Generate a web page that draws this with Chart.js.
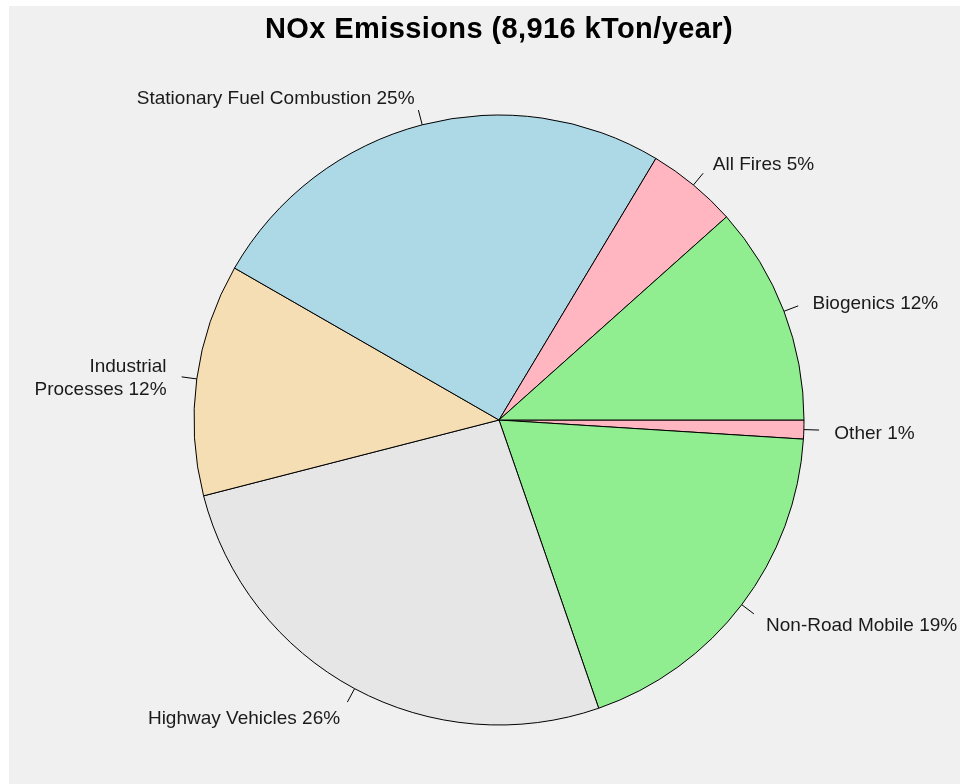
<!DOCTYPE html>
<html>
<head>
<meta charset="utf-8">
<title>NOx Emissions</title>
<script src="https://cdn.jsdelivr.net/npm/chart.js@4.4.0/dist/chart.umd.min.js"></script>
<style>
    html, body { margin: 0; padding: 0; background: #ffffff; }
    #wrap { position: relative; width: 960px; height: 784px; }
</style>
</head>
<body>
<div id="wrap"><canvas id="noxPie" width="960" height="784"></canvas></div>
<script>
// Slices in clockwise order starting at 3 o'clock
const sectors = ['Other', 'Non-Road Mobile', 'Highway Vehicles', 'Industrial\nProcesses',
    'Stationary Fuel Combustion', 'All Fires', 'Biogenics'];
// Share of total (%)
const shares = [1.0, 18.7, 26.3, 12.3, 25.3, 4.8, 11.6];
// Percent printed in each label
const shownPct = [1, 19, 26, 12, 25, 5, 12];

const sliceColors = ['#ffb6c1', '#90ee90', '#e6e6e6', '#f5deb3', '#add8e6', '#ffb6c1', '#90ee90'];

// Grey panel behind the plot, slight tracking for the title
const backdrop = {
    id: 'backdrop',
    beforeDraw(chart) {
        const ctx = chart.ctx;
        ctx.fillStyle = '#f0f0f0';
        ctx.fillRect(9, 6, chart.width - 9, chart.height - 6);
        ctx.letterSpacing = '0.4px';
    }
};

// R-style outside labels with short tick lines
const outsideLabels = {
    id: 'outsideLabels',
    afterDatasetsDraw(chart) {
        const ctx = chart.ctx;
        const meta = chart.getDatasetMeta(0);
        ctx.save();
        ctx.letterSpacing = '0px';
        ctx.font = '19px "Liberation Sans", Arial, sans-serif';
        ctx.fillStyle = '#1a1a1a';
        ctx.strokeStyle = '#000';
        ctx.lineWidth = 1;
        ctx.textBaseline = 'middle';
        meta.data.forEach((arc, i) => {
            const p = arc.getProps(['x', 'y', 'startAngle', 'endAngle', 'outerRadius'], true);
            const mid = (p.startAngle + p.endAngle) / 2;
            const c = Math.cos(mid), s = Math.sin(mid);
            const r = p.outerRadius;
            ctx.beginPath();
            ctx.moveTo(p.x + r * c, p.y + r * s);
            ctx.lineTo(p.x + 1.05 * r * c, p.y + 1.05 * r * s);
            ctx.stroke();

            const tx = p.x + 1.1 * r * c;
            const ty = p.y + 1.1 * r * s + 3;
            ctx.textAlign = c >= 0 ? 'left' : 'right';
            const lines = (sectors[i] + ' ' + shownPct[i] + '%').split('\n');
            const lh = 23;
            lines.forEach((ln, k) => {
                ctx.fillText(ln, tx, ty + (k - (lines.length - 1) / 2) * lh);
            });
        });
        ctx.restore();
    }
};

new Chart(document.getElementById('noxPie'), {
    type: 'pie',
    data: {
        labels: sectors,
        datasets: [{
            data: shares,
            backgroundColor: sliceColors,
            borderColor: '#000000',
            borderWidth: 1
        }]
    },
    options: {
        responsive: false,
        animation: false,
        rotation: 90,
        radius: 305,
        layout: {
            padding: { left: 194, right: 156, top: 0, bottom: 59 }
        },
        plugins: {
            legend: { display: false },
            tooltip: { enabled: false },
            title: {
                display: true,
                text: 'NOx Emissions (8,916 kTon/year)',
                color: '#000000',
                font: { family: '"Liberation Sans", Arial, sans-serif', size: 29, weight: 'bold', lineHeight: 1.2 },
                padding: { top: 13, bottom: 67.2 }
            }
        }
    },
    plugins: [backdrop, outsideLabels]
});
</script>
</body>
</html>
